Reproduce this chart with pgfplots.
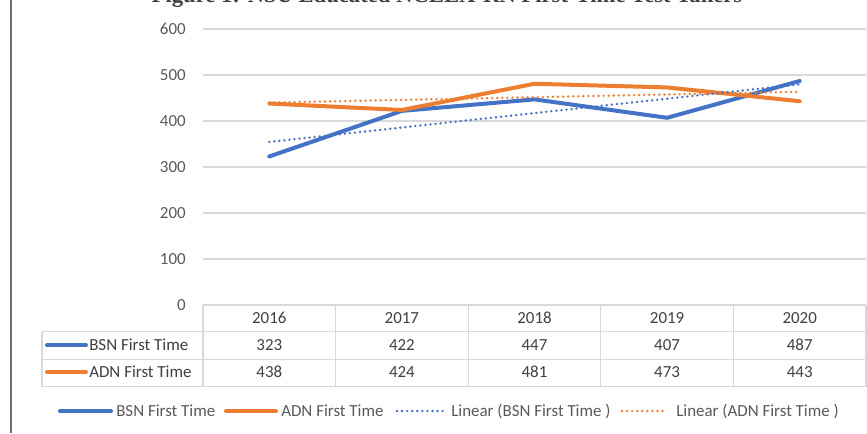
\documentclass[border=0pt]{standalone}
\usepackage{fontspec}
\setmainfont{Carlito}
\newfontfamily\titlefont{Liberation Serif}
\usepackage{pgfplots}
\pgfplotsset{compat=1.18}
\definecolor{cblue}{HTML}{4472C4}
\definecolor{corange}{HTML}{ED7D31}
\definecolor{tgray}{HTML}{595959}
\definecolor{dgray}{HTML}{404040}
\definecolor{lgray}{HTML}{D9D9D9}
\definecolor{fgray}{HTML}{707070}
\newcommand\fs{\fontsize{12.7}{15}\selectfont}
\pgfplotsset{tabrow/.style={only marks, mark=none, point meta=explicit symbolic,
  nodes near coords, nodes near coords align={anchor=base},
  nodes near coords style={anchor=base, font=\fs, text=dgray, inner sep=0pt}}}
\begin{document}
\begin{tikzpicture}
\clip (0,0) rectangle (650.25pt,-324.75pt);
\begin{axis}[
  at={(152.25pt,-228.75pt)}, anchor=south west,
  scale only axis, width=497.25pt, height=207pt,
  xmin=-0.5, xmax=4.5, ymin=0, ymax=600,
  clip=false,
  axis line style={draw=none},
  xtick=\empty,
  ytick={0,100,...,600},
  ymajorgrids, grid style={lgray, line width=0.9pt},
  major tick length=0pt,
  /pgf/number format/assume math mode=true,
  tick label style={font=\fs, text=tgray},
  yticklabel style={inner sep=0pt},
  yticklabel shift=12.75pt,
]
% data series
\addplot[cblue, line width=3pt, line cap=round, line join=round]
  coordinates {(0,323) (1,422) (2,447) (3,407) (4,487)};
\addplot[corange, line width=3pt, line cap=round, line join=round]
  coordinates {(0,438) (1,424) (2,481) (3,473) (4,443)};
% linear trend lines
\addplot[cblue, line width=2pt, line cap=round, dash pattern=on 0pt off 3.8pt]
  coordinates {(0,354.6) (4,479.8)};
\addplot[corange, line width=2pt, line cap=round, dash pattern=on 0pt off 3.8pt]
  coordinates {(0,440.0) (4,463.6)};
% data table text
\addplot[tabrow]
  coordinates {(0,-40) [2016] (1,-40) [2017] (2,-40) [2018] (3,-40) [2019] (4,-40) [2020]};
\addplot[tabrow]
  coordinates {(0,-98.5) [323] (1,-98.5) [422] (2,-98.5) [447] (3,-98.5) [407] (4,-98.5) [487]};
\addplot[tabrow]
  coordinates {(0,-157) [438] (1,-157) [424] (2,-157) [481] (3,-157) [473] (4,-157) [443]};
\end{axis}
\begin{scope}[x=0.75pt, y=-0.75pt]
  % left frame line
  \draw[fgray, line width=1.5pt] (10.5,0) -- (10.5,433);
  % title (cropped at the top as in the reference)
  \node[anchor=base, inner sep=0pt, text=dgray,
        font=\titlefont\bfseries\fontsize{17}{20}\selectfont] at (447,2)
        {Figure 1: NSU Educated NCLEX-RN First-Time Test Takers};
  % table grid
  \begin{scope}[lgray, line width=0.9pt]
    \draw (42,331.7) -- (866,331.7);
    \draw (42,359.3) -- (866,359.3);
    \draw (42,386.7) -- (866,386.7);
    \draw (42,331.7) -- (42,386.7);
    \foreach \xx in {203,335.6,468.2,600.8,733.4,866}
      \draw (\xx,305) -- (\xx,386.7);
  \end{scope}
  % row labels
  \draw[cblue, line width=3pt, line cap=round] (47,345) -- (86,345);
  \node[anchor=west, inner sep=0pt, font=\fs, text=dgray] at (89,345) {BSN First Time};
  \draw[corange, line width=3pt, line cap=round] (47,372) -- (86,372);
  \node[anchor=west, inner sep=0pt, font=\fs, text=dgray] at (89,372) {ADN First Time};
  % legend
  \draw[cblue, line width=3pt, line cap=round] (60,411) -- (111,411);
  \node[anchor=west, inner sep=0pt, font=\fs, text=tgray] at (116,411) {BSN First Time};
  \draw[corange, line width=3pt, line cap=round] (226,411) -- (276,411);
  \node[anchor=west, inner sep=0pt, font=\fs, text=tgray] at (281,411) {ADN First Time};
  \draw[cblue, line width=2pt, line cap=round, dash pattern=on 0pt off 3.8pt] (397,411) -- (445,411);
  \node[anchor=west, inner sep=0pt, font=\fs, text=tgray] at (451,411) {Linear (BSN First Time )};
  \draw[corange, line width=2pt, line cap=round, dash pattern=on 0pt off 3.8pt] (622,411) -- (667,411);
  \node[anchor=west, inner sep=0pt, font=\fs, text=tgray] at (676,411) {Linear (ADN First Time )};
\end{scope}
\end{tikzpicture}
\end{document}
